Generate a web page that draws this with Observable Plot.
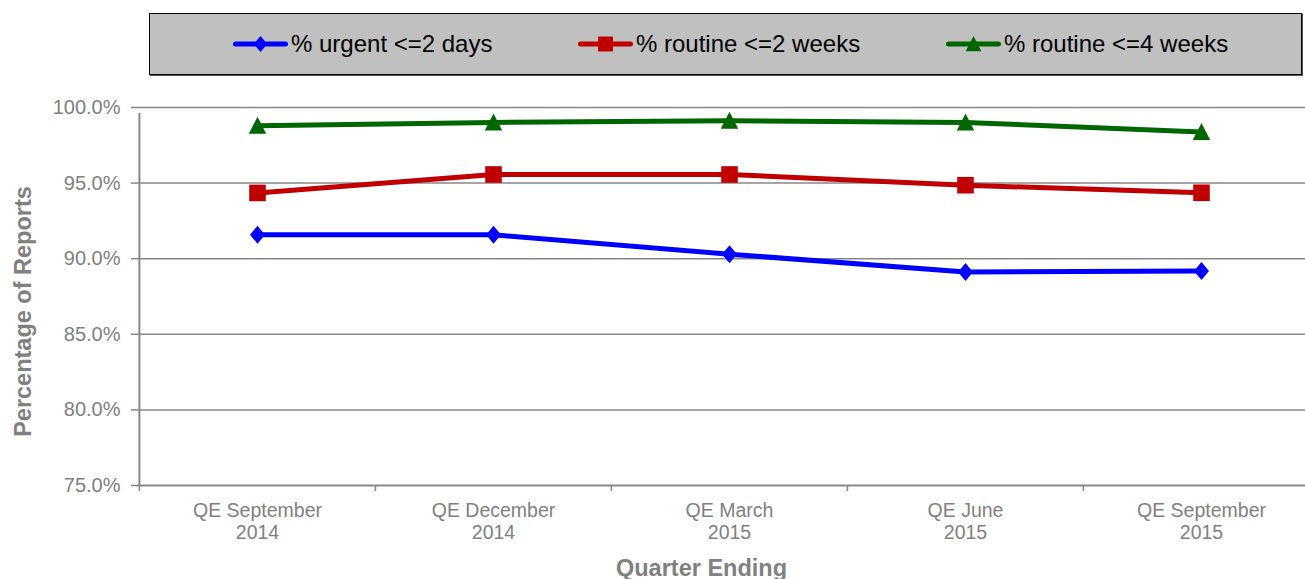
<!DOCTYPE html>
<html>
<head>
<meta charset="utf-8">
<script src="https://cdn.jsdelivr.net/npm/d3@7"></script>
<script src="https://cdn.jsdelivr.net/npm/@observablehq/plot@0.6"></script>
<style>
  html, body { margin: 0; padding: 0; background: #fff; }
  #wrap { position: relative; width: 1305px; height: 579px; overflow: hidden; font-family: "Liberation Sans", Arial, sans-serif; }
  #legend { position: absolute; left: 149px; top: 13px; width: 1151px; height: 60px; background: #c0c0c0; border: 1.5px solid #000; box-shadow: 1px 1px 0 #555; }
  .item { position: absolute; top: 0; height: 60px; display: flex; align-items: center; font-size: 24px; color: #000; white-space: nowrap; }
  .item svg { margin-right: 3px; }
</style>
</head>
<body>
<div id="wrap">
  <div id="chart"></div>
  <div id="legend"></div>
</div>
<script>
// ---- data ----
const quarters = ["QE Sep 2014", "QE Dec 2014", "QE Mar 2015", "QE Jun 2015", "QE Sep 2015"];
const xLabels = ["QE September\n2014", "QE December\n2014", "QE March\n2015", "QE June\n2015", "QE September\n2015"];
const seriesNames = ["% urgent <=2 days", "% routine <=2 weeks", "% routine <=4 weeks"];
const urgent2Days = [91.58, 91.58, 90.30, 89.12, 89.19];
const routine2Weeks = [94.35, 95.57, 95.57, 94.86, 94.36];
const routine4Weeks = [98.80, 99.01, 99.12, 99.01, 98.38];
const yTicks = [75, 80, 85, 90, 95, 100];
const yTitle = "Percentage of Reports";
const xTitle = "Quarter Ending";

// ---- styles ----
const colors = ["#0000ff", "#c00000", "#006600"];
const gray = "#808080";
const gridGray = "#878787";

// custom marker shapes
const diamond = { draw(ctx) { ctx.moveTo(0, -9); ctx.lineTo(7.5, 0); ctx.lineTo(0, 9); ctx.lineTo(-7.5, 0); ctx.closePath(); } };
const square = { draw(ctx) { ctx.rect(-8.3, -8.3, 16.6, 16.6); } };
const triangle = { draw(ctx) { ctx.moveTo(0, -9); ctx.lineTo(8.7, 8); ctx.lineTo(-8.7, 8); ctx.closePath(); } };
const symbols = [diamond, square, triangle];
const seriesValues = [urgent2Days, routine2Weeks, routine4Weeks];

const W = 1305, H = 579;
const xRange = [138, 1319];
const bw = (xRange[1] - xRange[0]) / quarters.length;
const fmtPct = d => d.toFixed(1) + "%";

const marks = [
  Plot.gridY(yTicks.slice(1), { stroke: gridGray, strokeOpacity: 1, strokeWidth: 1.5 }),
  Plot.ruleY([yTicks[0]], { stroke: gridGray, strokeWidth: 2 }),
  Plot.ruleX([quarters[0]], { y1: yTicks[0], y2: yTicks[yTicks.length - 1], dx: -bw / 2, stroke: gridGray, strokeWidth: 2, insetBottom: -6 }),
  Plot.axisY(yTicks, { tickSize: 6, tickFormat: () => "", stroke: gridGray, strokeWidth: 1.5, label: null }),
  Plot.text(yTicks, { y: d => d, frameAnchor: "left", textAnchor: "end", lineAnchor: "middle", dx: -17, text: fmtPct, fontSize: 20, fill: gray }),
  Plot.axisX(quarters, { tickSize: 6, dx: -bw / 2, tickFormat: () => "", stroke: gridGray, strokeWidth: 1.5, label: null }),
  Plot.axisX(quarters, { tickSize: 0, tickPadding: 16, fontSize: 19.5, lineHeight: 1.12, color: gray, tickFormat: (d) => xLabels[quarters.indexOf(d)], label: null }),
  Plot.text([yTitle], { frameAnchor: "left", textAnchor: "middle", rotate: -90, lineAnchor: "bottom", dx: -107, dy: 15, fontSize: 23.5, fontWeight: "bold", fill: gray, style: "word-spacing:8px" }),
  Plot.text([xTitle], { frameAnchor: "bottom", textAnchor: "middle", lineAnchor: "bottom", dx: -20, dy: 90, fontSize: 23.5, fontWeight: "bold", fill: gray })
];

seriesValues.forEach((vals, k) => {
  marks.push(Plot.line(vals, { x: (d, i) => quarters[i], y: d => d, stroke: colors[k], strokeWidth: 5, strokeLinejoin: "round", strokeLinecap: "round" }));
  marks.push(Plot.dot(vals, { x: (d, i) => quarters[i], y: d => d, symbol: symbols[k], r: 8, fill: colors[k], stroke: "none" }));
});

const chart = Plot.plot({
  width: W,
  height: H,
  marginTop: 107,
  marginBottom: 94,
  marginLeft: 137,
  marginRight: 0,
  style: { fontFamily: "'Liberation Sans', Arial, sans-serif", background: "#fff", overflow: "hidden" },
  x: { type: "band", domain: quarters, range: xRange, padding: 0, axis: null },
  y: { domain: [yTicks[0], yTicks[yTicks.length - 1]], axis: null },
  marks
});
document.getElementById("chart").appendChild(chart);

// ---- legend ----
const legend = document.getElementById("legend");
const legendLeft = [83, 428, 796];
seriesNames.forEach((name, k) => {
  const item = document.createElement("div");
  item.className = "item";
  item.style.left = legendLeft[k] + "px";
  const ns = "http://www.w3.org/2000/svg";
  const svg = document.createElementNS(ns, "svg");
  svg.setAttribute("width", 55); svg.setAttribute("height", 22);
  const line = document.createElementNS(ns, "line");
  line.setAttribute("x1", 2.5); line.setAttribute("x2", 52.5); line.setAttribute("y1", 11); line.setAttribute("y2", 11);
  line.setAttribute("stroke", colors[k]); line.setAttribute("stroke-width", 5); line.setAttribute("stroke-linecap", "round");
  svg.appendChild(line);
  const p = document.createElementNS(ns, "path");
  const path = d3.path();
  symbols[k].draw(path);
  p.setAttribute("d", path.toString());
  p.setAttribute("transform", "translate(27.5,11) scale(0.9)");
  p.setAttribute("fill", colors[k]);
  svg.appendChild(p);
  item.appendChild(svg);
  const span = document.createElement("span");
  span.textContent = name;
  item.appendChild(span);
  legend.appendChild(item);
});
</script>
</body>
</html>
